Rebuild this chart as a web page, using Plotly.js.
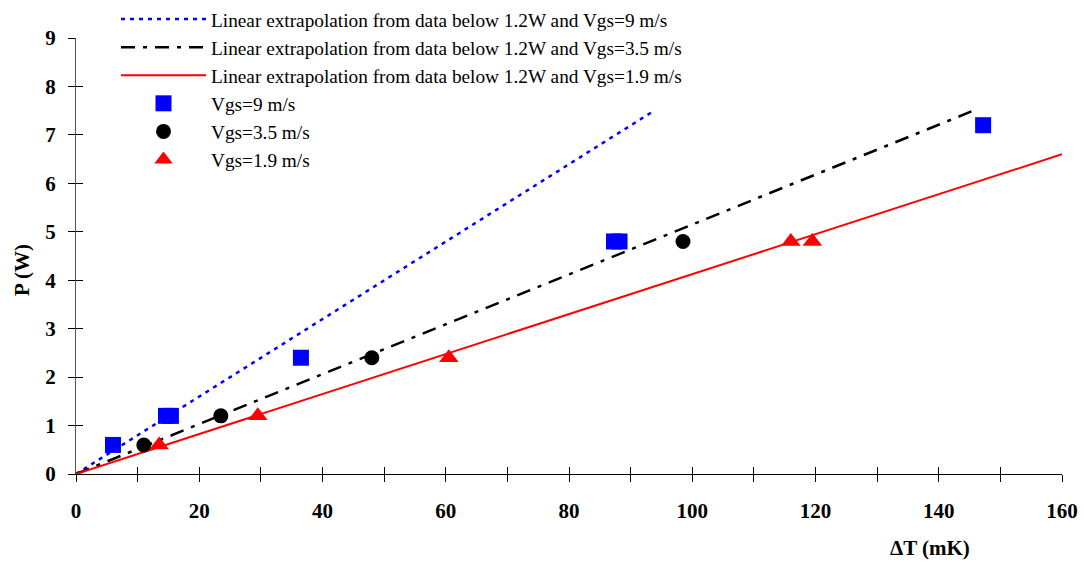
<!DOCTYPE html>
<html><head><meta charset="utf-8">
<script src="https://cdn.plot.ly/plotly-3.0.1.min.js"></script>
<style>html,body{margin:0;padding:0;background:#fff}#chart{width:1084px;height:562px}</style>
</head><body><div id="chart"></div>
<script>
// Extrapolation lines (endpoints)
const fit9X = [0, 93.7];   const fit9Y = [0, 7.49];
const fit35X = [0, 146.2]; const fit35Y = [0, 7.53];
const fit19X = [0, 160];   const fit19Y = [0, 6.6];
// Measured data
const v9X = [6, 14.6, 15.4, 36.5, 87.3, 88.2, 147.2];
const v9Y = [0.6, 1.2, 1.2, 2.4, 4.8, 4.8, 7.2];
const v35X = [11, 23.5, 48, 98.5];
const v35Y = [0.6, 1.2, 2.4, 4.8];
const v19X = [13.5, 29.5, 60.5, 116, 119.5];
const v19Y = [0.6, 1.2, 2.4, 4.8, 4.8];
const names = [
  'Linear extrapolation from data below 1.2W and Vgs=9 m/s',
  'Linear extrapolation from data below 1.2W and Vgs=3.5 m/s',
  'Linear extrapolation from data below 1.2W and Vgs=1.9 m/s',
  'Vgs=9 m/s', 'Vgs=3.5 m/s', 'Vgs=1.9 m/s'
];
const F = 'Liberation Serif';
const traces = [
  {x: fit9X, y: fit9Y, mode: 'lines', name: names[0], line: {color: '#0000ff', width: 2.5, dash: '4px,5px'}},
  {x: fit35X, y: fit35Y, mode: 'lines', name: names[1], line: {color: '#000000', width: 2.5, dash: '14px,8px,4px,8px'}},
  {x: fit19X, y: fit19Y, mode: 'lines', name: names[2], line: {color: '#ff0000', width: 2}},
  {x: v9X, y: v9Y, mode: 'markers', name: names[3], marker: {symbol: 'square', size: 16, color: '#0000ff'}},
  {x: v35X, y: v35Y, mode: 'markers', name: names[4], marker: {symbol: 'circle', size: 15, color: '#000000'}},
  {x: v19X, y: v19Y, mode: 'markers', name: names[5], marker: {symbol: 'triangle-up', size: 17, color: '#ff0000'}},
  {x: [0], y: [0], xaxis: 'x2', yaxis: 'y2', mode: 'markers', marker: {opacity: 0}, showlegend: false, hoverinfo: 'skip'}
];
const axBase = {showgrid: false, zeroline: false, showline: true, linecolor: '#000', linewidth: 1,
  tickcolor: '#000', tickwidth: 1, ticklen: 7};
const layout = {
  width: 1084, height: 562,
  margin: {l: 75.5, r: 22, t: 38, b: 88, autoexpand: false},
  paper_bgcolor: '#fff', plot_bgcolor: '#fff',
  font: {family: F, color: '#000'},
  showlegend: true,
  legend: {x: 116/1084, xref: 'container', y: 1.014, yref: 'container', xanchor: 'left', yanchor: 'top',
    font: {family: F, size: 19.3, color: '#000'}, bgcolor: 'rgba(0,0,0,0)', itemwidth: 85,
    tracegroupgap: 0, traceorder: 'normal'},
  xaxis: Object.assign({}, axBase, {range: [0, 160], dtick: 20, ticks: 'outside',
    minor: {dtick: 10, ticks: 'outside', ticklen: 7, tickcolor: '#000'},
    ticklabelstandoff: 11,
    tickfont: {family: F, size: 21, weight: 'bold', color: '#000'}}),
  yaxis: Object.assign({}, axBase, {range: [0, 9], dtick: 1, ticks: 'outside', linecolor: '#555',
    ticklabelstandoff: 8,
    tickfont: {family: F, size: 21, weight: 'bold', color: '#000'}}),
  xaxis2: {overlaying: 'x', matches: 'x', range: [0, 160], dtick: 10, ticks: 'inside', ticklen: 7,
    tickcolor: '#000', showticklabels: false, showgrid: false, zeroline: false, showline: false, side: 'bottom'},
  yaxis2: {overlaying: 'y', matches: 'y', range: [0, 9], dtick: 1, ticks: 'inside', ticklen: 7,
    tickcolor: '#000', showticklabels: false, showgrid: false, zeroline: false, showline: false, side: 'left'},
  annotations: [
    {text: 'ΔT (mK)', xref: 'paper', yref: 'paper', x: 0.866, y: -0.169, xanchor: 'center', yanchor: 'middle',
      showarrow: false, font: {family: F, size: 21, weight: 'bold', color: '#000'}},
    {text: 'P (W)', xref: 'paper', yref: 'paper', x: -0.0542, y: 0.467, xanchor: 'center', yanchor: 'middle',
      textangle: -90, showarrow: false, font: {family: F, size: 21, weight: 'bold', color: '#000'}}
  ]
};
Plotly.newPlot('chart', traces, layout, {displayModeBar: false, staticPlot: true});
</script></body></html>
